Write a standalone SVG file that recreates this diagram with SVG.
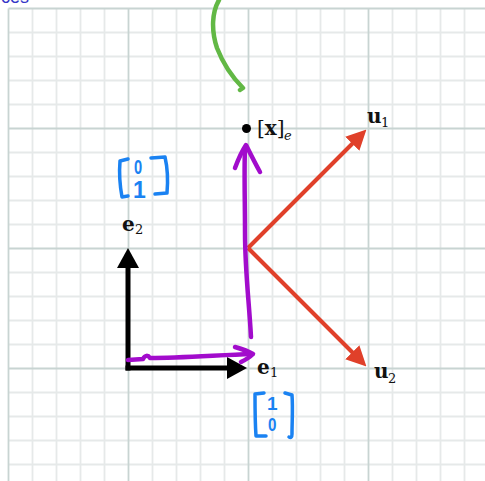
<svg xmlns="http://www.w3.org/2000/svg" width="485" height="481" viewBox="0 0 485 481">
<style>
.minor{stroke:#e6e9e9;stroke-width:1.8;fill:none}
.major{stroke:#c8d4d2;stroke-width:1.8;fill:none}
.lbl{font-family:"DejaVu Serif","Liberation Serif",serif;fill:#111}
.b{font-weight:bold;font-size:20px}
.sub{font-size:13px}
.ink{fill:none;stroke-linecap:round;stroke-linejoin:round}
.purple{stroke:#a20ccc;stroke-width:4.5}
.blue{stroke:#1a82f2;stroke-width:3.5}
.green{stroke:#62b845;stroke-width:4.5}
.hand{font-family:"Liberation Sans","DejaVu Sans",sans-serif;fill:#1a82f2;font-weight:bold}
</style>
<defs>
<marker id="ahBlack" markerUnits="userSpaceOnUse" viewBox="0 0 20 22" markerWidth="20" markerHeight="22" refX="1" refY="11" orient="auto">
<path d="M0,0 L20,11 L0,22 z" fill="#000"/>
</marker>
<marker id="ahRed" markerUnits="userSpaceOnUse" viewBox="0 0 20 20" markerWidth="20" markerHeight="20" refX="1" refY="10" orient="auto">
<path d="M0,0 L20,10 L0,20 z" fill="#e0402a"/>
</marker>
</defs>
<rect width="485" height="481" fill="#fff"/>
<g id="grid">
<path class="minor" d="M32.5,8.5V481M56.5,8.5V481M80.5,8.5V481M104.5,8.5V481M152.5,8.5V481M176.5,8.5V481M200.5,8.5V481M224.5,8.5V481M272.5,8.5V481M296.5,8.5V481M320.5,8.5V481M344.5,8.5V481M392.5,8.5V481M416.5,8.5V481M440.5,8.5V481M464.5,8.5V481"/>
<path class="minor" d="M8.5,32.5H485M8.5,56.5H485M8.5,80.5H485M8.5,104.5H485M8.5,152.5H485M8.5,176.5H485M8.5,200.5H485M8.5,224.5H485M8.5,272.5H485M8.5,296.5H485M8.5,320.5H485M8.5,344.5H485M8.5,392.5H485M8.5,416.5H485M8.5,440.5H485M8.5,464.5H485"/>
<path class="major" d="M8.5,8.5V481M128.5,8.5V481M248.5,8.5V481M368.5,8.5V481M8.5,8.5H485M8.5,128.5H485M8.5,248.5H485M8.5,368.5H485"/>
</g>
<text x="1" y="3" font-family="Liberation Sans, sans-serif" font-size="18" fill="#3636c8">ces</text>
<g id="connectors">
<line x1="128" y1="368" x2="228" y2="368" stroke="#000" stroke-width="5" stroke-linecap="square" marker-end="url(#ahBlack)"/>
<line x1="128" y1="368" x2="128" y2="267" stroke="#000" stroke-width="5" stroke-linecap="square" marker-end="url(#ahBlack)"/>
<line x1="248" y1="248" x2="353" y2="143" stroke="#e0402a" stroke-width="4" marker-end="url(#ahRed)"/>
<line x1="248" y1="248" x2="353" y2="353" stroke="#e0402a" stroke-width="4" marker-end="url(#ahRed)"/>
<path class="ink purple" d="M251,337 C249,300 245,272 245,232 C245,200 244,172 245,148"/>
<path class="ink purple" d="M235,168 C238,160 242,151 246,145 C250,153 255,163 260,172"/>
<path class="ink purple" d="M128,360 L143,359 C145,355 148,355 150,358 C180,358 220,355 251,354"/>
<path class="ink purple" d="M235,347 C242,349 248,351 253,354 C250,357 245,360 241,362"/>
<path class="ink green" d="M219,0 C212,12 211,30 217,48 C224,66 235,80 243,88 L240,90"/>
</g>
<g id="e1">
<text class="lbl b" x="257" y="374">e</text>
<text class="lbl sub" x="270" y="377">1</text>
</g>
<g id="e2">
<text class="lbl b" x="122" y="231">e</text>
<text class="lbl sub" x="135" y="234">2</text>
</g>
<g id="u1">
<text class="lbl b" x="367" y="123">u</text>
<text class="lbl sub" x="381" y="127">1</text>
</g>
<g id="u2">
<text class="lbl b" x="374" y="378">u</text>
<text class="lbl sub" x="388" y="383">2</text>
</g>
<g id="xe">
<circle cx="246.5" cy="128.5" r="4.5" fill="#000"/>
<text class="lbl" x="257" y="135" font-size="20">[<tspan font-weight="bold">x</tspan>]</text>
<text class="lbl sub" x="284" y="140" font-style="italic">e</text>
</g>
<g id="vec01">
<path class="ink blue" d="M128,159 L120,161 C119,173 120,186 122,197 L128,196"/>
<path class="ink blue" d="M151,158 L165,157 C168,170 168,182 167,193 L155,194"/>
<text class="hand" x="134" y="174" font-size="21" transform="translate(134,0) scale(0.7,1) translate(-134,0)">0</text>
<text class="hand" x="133" y="198" font-size="23">1</text>
</g>
<g id="vec10">
<path class="ink blue" d="M264,393 L255,394 C255,408 255,422 256,436 L266,436"/>
<path class="ink blue" d="M285,393 L292,395 C293,408 292,422 292,434 C292,437 291,438 289,437"/>
<text class="hand" x="267" y="410" font-size="19">1</text>
<text class="hand" x="268" y="431" font-size="19" transform="translate(268,0) scale(0.8,1) translate(-268,0)">0</text>
</g>
</svg>
